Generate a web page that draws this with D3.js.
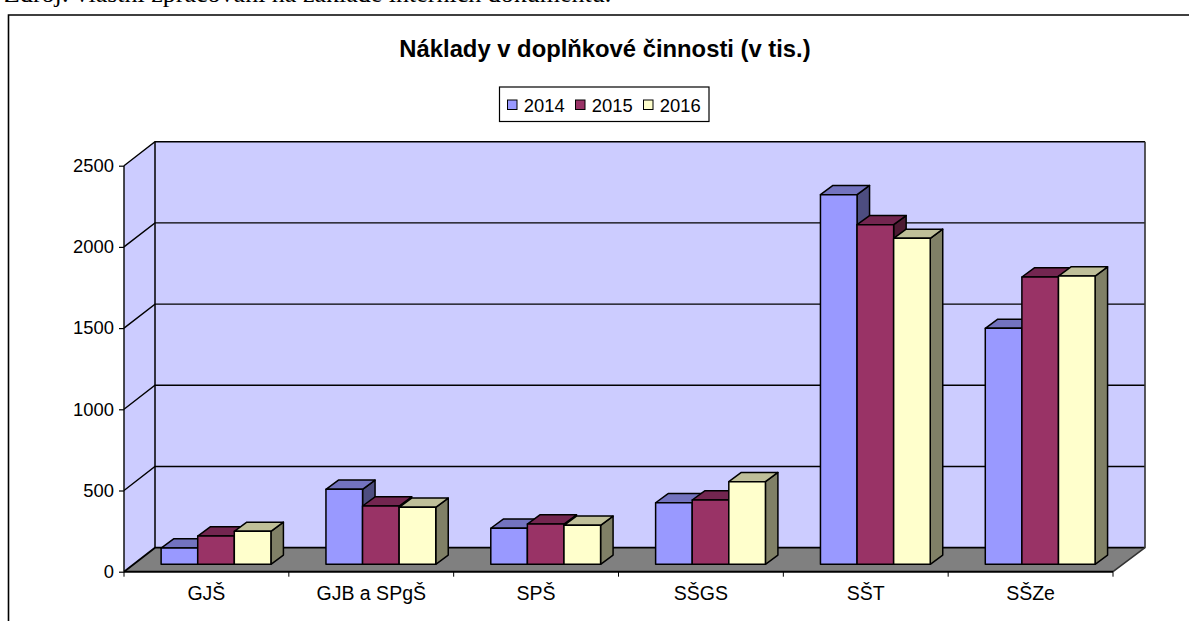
<!DOCTYPE html>
<html><head><meta charset="utf-8">
<style>html,body{margin:0;padding:0;background:#fff;overflow:hidden}svg{display:block}
text{font-family:"Liberation Sans",Arial,sans-serif;fill:#000}</style>
<script src="https://cdn.jsdelivr.net/npm/d3@7/dist/d3.min.js"></script>
</head><body><svg id="c" width="1189" height="621"></svg>
<script>
const categories = ["GJŠ","GJB a SPgŠ","SPŠ","SŠGS","SŠT","SŠZe"];
const years = ["2014","2015","2016"];
const values2014 = [100,462,222,379,2276,1453];
const values2015 = [174,359,248,396,2091,1769];
const values2016 = [203,351,240,509,2007,1775];
const yTicks = [0,500,1000,1500,2000,2500];
const frontColors = ["#9999ff","#993366","#ffffcc"];
const topColors = ["#7373bf","#732650","#bfbf99"];
const sideColors = ["#4d4d80","#4d1a33","#808066"];
const series = [values2014,values2015,values2016];

const svg = d3.select("#c");
const L=124,R=1113,Y0=571.7,Y1=165.7,DX=31,DY=-24;
const barShiftX=9.6, barShiftY=-7.4, barDX=12.5, barDY=-9.2;

const x = d3.scaleBand().domain(categories).range([L,R]);
const inner = d3.scaleBand().domain(years).range([0,x.bandwidth()]).paddingInner(0).paddingOuter(0.752);
const y = d3.scaleLinear().domain([0,2500]).range([Y0,Y1]);
const poly = p => p.map(d=>d.join(",")).join(" ");

// source line, clipped by the page top as in the reference
svg.append("text").attr("x",4).attr("y",2).style("font-family",'"Liberation Serif","Times New Roman",serif')
  .style("font-size","26px").text("Zdroj: vlastní zpracování na základě interních dokumentů.");

// chart frame
svg.append("path").attr("d","M8.5,621V15H1189").attr("fill","none").attr("stroke","#000").attr("stroke-width",1.6);

// title
svg.append("text").attr("x",605).attr("y",57).attr("text-anchor","middle")
  .style("font-size","23.8px").style("font-weight","bold").text("Náklady v doplňkové činnosti (v tis.)");

// legend
const lg = svg.append("g");
lg.append("rect").attr("x",499.5).attr("y",87).attr("width",209.5).attr("height",34.5)
  .attr("fill","#fff").attr("stroke","#000").attr("stroke-width",1.2);
years.forEach((yr,i)=>{
  const lx = 507.5 + i*68;
  lg.append("rect").attr("x",lx).attr("y",100).attr("width",9.5).attr("height",9.5)
    .attr("fill",frontColors[i]).attr("stroke","#000").attr("stroke-width",1);
  lg.append("text").attr("x",lx+16.3).attr("y",111.5).style("font-size","18.4px").text(yr);
});

// walls and floor
const yBack = v => y(v)+DY;
svg.append("polygon").attr("points",poly([[L,Y0],[L,Y1],[L+DX,Y1+DY],[L+DX,Y0+DY]])).attr("fill","#ccccff");
svg.append("polygon").attr("points",poly([[L+DX,Y1+DY],[R+DX+1,Y1+DY],[R+DX+1,Y0+DY],[L+DX,Y0+DY]])).attr("fill","#ccccff");
svg.append("polygon").attr("points",poly([[L,Y0],[L+DX,Y0+DY],[R+DX+1,Y0+DY],[R,Y0]])).attr("fill","#808080");

// gridlines: side wall diagonal and back wall horizontal
const grid = svg.append("g").attr("fill","none").attr("stroke","#000");
yTicks.forEach(v=>{
  grid.append("path").attr("d",`M${L},${y(v)}L${L+DX},${yBack(v)}H${R+DX+1}`)
    .attr("stroke-width", v===0?1.8:1.4);
});
svg.append("path").attr("d",`M${L+DX},${Y1+DY}V${Y0+DY}`).attr("stroke","#000").attr("stroke-width",1.5);
svg.append("path").attr("d",`M${R+DX+1},${Y1+DY}V${Y0+DY}L${R},${Y0}`).attr("fill","none").attr("stroke","#333").attr("stroke-width",1.6);

// axes
const yAxis = svg.append("g").attr("transform",`translate(${L},0)`)
  .call(d3.axisLeft(y).tickValues(yTicks).tickSize(5).tickPadding(5).tickFormat(d3.format("d")));
yAxis.selectAll("text").style("font-size","18.4px");
const xTickPos = categories.map(c=>x(c)).concat([R]);
const xAxisG = svg.append("g").attr("transform",`translate(0,${Y0})`);
xAxisG.append("path").attr("d",`M${L},0H${R}`).attr("stroke","#000").attr("stroke-width",2);
xAxisG.selectAll("line").data(xTickPos).join("line").attr("x1",d=>d).attr("x2",d=>d).attr("y1",0).attr("y2",5).attr("stroke","#000");
xAxisG.selectAll("text").data(categories).join("text")
  .attr("x",d=>x(d)+x.bandwidth()/2).attr("y",28.8).attr("text-anchor","middle").style("font-size","19.5px").text(d=>d);
yAxis.select(".domain").attr("stroke-width",1.4).attr("d",`M0,${Y0}V${Y1}`);
yAxis.selectAll("line").attr("stroke-width",1.2);

// bars
const barsG = svg.append("g").attr("stroke","#000").attr("stroke-width",1.5).attr("stroke-linejoin","round");
categories.forEach((c,ci)=>{
  years.forEach((yr,si)=>{
    const v = series[si][ci];
    const x0 = x(c)+inner(yr)+barShiftX, x1 = x0+inner.bandwidth();
    const yb = y(0)+barShiftY, yt = y(v)+barShiftY;
    barsG.append("polygon").attr("fill",sideColors[si])
      .attr("points",poly([[x1,yb],[x1,yt],[x1+barDX,yt+barDY],[x1+barDX,yb+barDY]]));
    barsG.append("polygon").attr("fill",topColors[si])
      .attr("points",poly([[x0,yt],[x0+barDX,yt+barDY],[x1+barDX,yt+barDY],[x1,yt]]));
    barsG.append("rect").attr("x",x0).attr("y",yt).attr("width",x1-x0).attr("height",yb-yt).attr("fill",frontColors[si]);
  });
});
</script></body></html>
